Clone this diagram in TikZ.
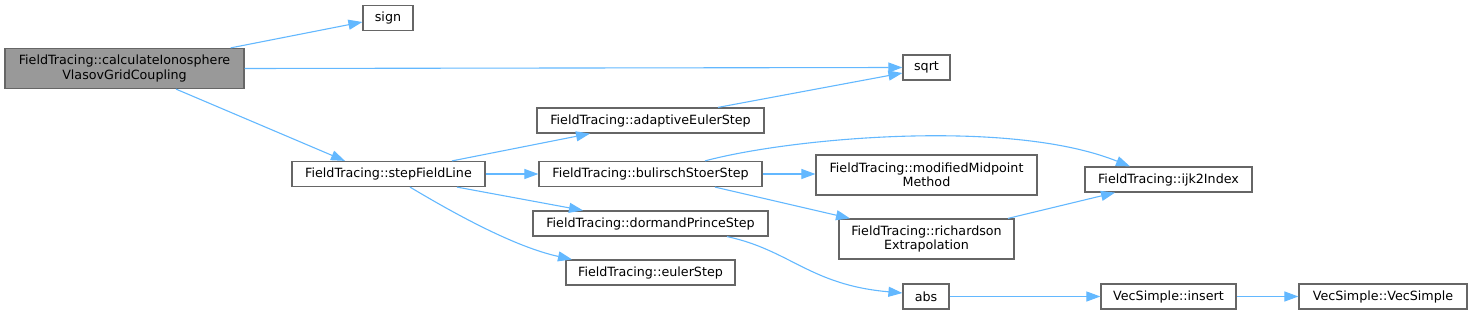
\documentclass[tikz,border=0pt]{standalone}
\usepackage{fontspec}
\setmainfont{DejaVu Sans}
\usetikzlibrary{arrows.meta,calc}
\definecolor{edgeblue}{HTML}{63B8FF}
\definecolor{boxgray}{HTML}{666666}
\definecolor{mainfill}{HTML}{999999}
\begin{document}
\begin{tikzpicture}[x=1pt,y=-1pt,
  box/.style={draw=boxgray, line width=1.2pt, fill=white, inner sep=0pt,
    font=\fontsize{12.7}{14.3}\selectfont, align=center, minimum height=25pt},
  tall/.style={minimum height=40pt},
  edge/.style={draw=edgeblue, line width=1.1pt, -{Triangle[length=14pt,width=10pt]}}]
\useasboundingbox (0,0) rectangle (1472,315);

\node[box, tall, fill=mainfill, minimum width=239pt] (main) at (124.5,68.5) {FieldTracing::calculateIonosphere\\VlasovGridCoupling};
\node[box, minimum width=50pt] (sign) at (388,18) {sign};
\node[box, minimum width=47pt] (sqrt) at (926.5,67.5) {sqrt};
\node[box, minimum width=193pt] (sfl) at (388.5,174) {FieldTracing::stepFieldLine};
\node[box, minimum width=227pt] (aes) at (650.5,120.5) {FieldTracing::adaptiveEulerStep};
\node[box, minimum width=223pt] (bss) at (650.5,174) {FieldTracing::bulirschStoerStep};
\node[box, minimum width=235pt] (dps) at (650.5,223.5) {FieldTracing::dormandPrinceStep};
\node[box, minimum width=169pt] (euler) at (650.5,272.5) {FieldTracing::eulerStep};
\node[box, tall, minimum width=221pt] (mmm) at (926.5,175) {FieldTracing::modifiedMidpoint\\Method};
\node[box, tall, minimum width=175pt] (rich) at (926.5,239) {FieldTracing::richardson\\Extrapolation};
\node[box, minimum width=167pt] (ijk) at (1168.5,179.5) {FieldTracing::ijk2Index};
\node[box, minimum width=46pt] (abs) at (926,296.5) {abs};
\node[box, minimum width=135pt] (ins) at (1168.5,296.5) {VecSimple::insert};
\node[box, minimum width=168pt] (vs) at (1383,296.5) {VecSimple::VecSimple};

% edges
\draw[edge] ([xshift=-14pt]main.north east) -- ([yshift=-4pt]sign.west);
\draw[edge] (main.east) -- (sqrt.west);
\draw[edge] ([xshift=51.5pt]main.south) -- ([xshift=-43.5pt]sfl.north);
\draw[edge] ([xshift=63.5pt]sfl.north) -- ([xshift=-60.5pt]aes.south);
\draw[edge] (sfl.east) -- (bss.west);
\draw[edge] ([xshift=68.5pt]sfl.south) -- ([xshift=-67.5pt]dps.north);
\draw[edge] ([xshift=21.5pt]sfl.south) .. controls (455,214) and (515,247) .. ([xshift=-78.5pt]euler.north);
\draw[edge] ([xshift=67.5pt]aes.north) -- ([yshift=-5.5pt]sqrt.west);
\draw[edge] ([xshift=54.5pt]bss.north) .. controls (790,138) and (1010,118) .. ([xshift=-38.5pt]ijk.north);
\draw[edge] (bss.east) -- (bss.east -| mmm.west);
\draw[edge] ([xshift=64.5pt]bss.south) -- ([xshift=-76.5pt]rich.north);
\draw[edge] ([xshift=81.5pt]rich.north) -- ([xshift=-53.5pt]ijk.south);
\draw[edge] ([xshift=76.5pt]dps.south) .. controls (790,250) and (810,285) .. ([yshift=3.5pt]abs.west);
\draw[edge] (abs.east) -- (ins.west);
\draw[edge] (ins.east) -- (vs.west);
\end{tikzpicture}
\end{document}
